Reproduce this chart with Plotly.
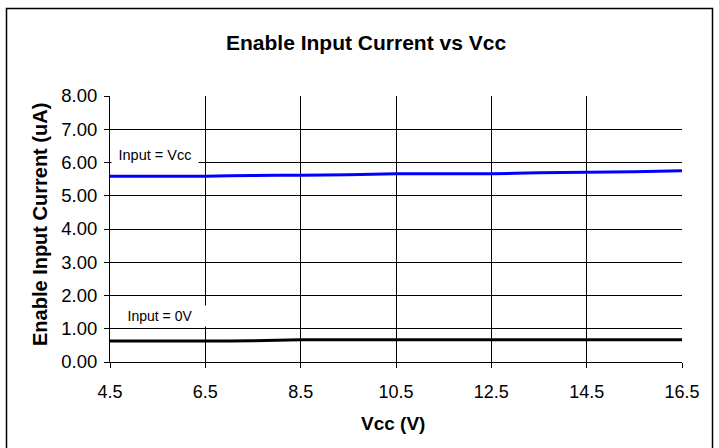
import plotly.graph_objects as go

vcc = [4.5, 5.5, 6.5, 7.5, 8.5, 9.5, 10.5, 11.5, 12.5, 13.5, 14.5, 15.5, 16.5]
i_input_vcc = [5.59, 5.59, 5.59, 5.61, 5.62, 5.63, 5.66, 5.66, 5.66, 5.69, 5.71, 5.72, 5.75]
i_input_0v = [0.63, 0.63, 0.63, 0.64, 0.67, 0.67, 0.67, 0.67, 0.67, 0.67, 0.67, 0.67, 0.67]
x_ticks = [4.5, 6.5, 8.5, 10.5, 12.5, 14.5, 16.5]
y_ticks = [0, 1, 2, 3, 4, 5, 6, 7, 8]

W, H = 719, 448
L, R, T, B = 110, 37, 96, 86
pw = W - L - R
ph = H - T - B

def px_x(px):
    return (px - L) / pw

def px_y(py):
    return (H - B - py) / ph

font = "Liberation Sans, Arial, sans-serif"

fig = go.Figure()
fig.add_trace(go.Scatter(x=vcc, y=i_input_vcc, mode="lines",
                         line=dict(color="#0000FF", width=3, shape="spline", smoothing=0.6),
                         name="Input = Vcc"))
fig.add_trace(go.Scatter(x=vcc, y=i_input_0v, mode="lines",
                         line=dict(color="#000000", width=3, shape="spline", smoothing=0.6),
                         name="Input = 0V"))

fig.update_layout(
    width=W, height=H,
    margin=dict(l=L, r=R, t=T, b=B),
    paper_bgcolor="white", plot_bgcolor="white",
    showlegend=False,
    font=dict(family=font, color="black"),
    xaxis=dict(range=[4.5, 16.5], tickvals=x_ticks, ticktext=[f"{v:g}" for v in x_ticks],
               showgrid=True, gridcolor="#000000", gridwidth=1,
               showline=True, linecolor="#000000", linewidth=1,
               ticks="outside", ticklen=5, tickcolor="#000000",
               ticklabelstandoff=8,
               tickfont=dict(size=18, family=font),
               zeroline=False, fixedrange=True),
    yaxis=dict(range=[0, 8], tickvals=y_ticks, ticktext=[f"{v:.2f}" for v in y_ticks],
               showgrid=True, gridcolor="#000000", gridwidth=1,
               showline=True, linecolor="#000000", linewidth=1,
               ticks="outside", ticklen=5, tickcolor="#000000",
               ticklabelstandoff=3,
               tickfont=dict(size=18.5, family=font),
               zeroline=False, fixedrange=True),
    shapes=[dict(type="rect", xref="paper", yref="paper",
                 x0=px_x(6.5), x1=px_x(712.5), y0=px_y(452), y1=px_y(8.5),
                 line=dict(color="black", width=1.5), fillcolor="rgba(0,0,0,0)", layer="above")],
    annotations=[
        dict(text="<b>Enable Input Current vs Vcc</b>", x=px_x(366), y=px_y(42), xref="paper", yref="paper",
             xanchor="center", yanchor="middle", showarrow=False, font=dict(size=21, family=font)),
        dict(text="<b>Vcc (V)</b>", x=px_x(393), y=px_y(423), xref="paper", yref="paper",
             xanchor="center", yanchor="middle", showarrow=False, font=dict(size=19, family=font)),
        dict(text="<b>Enable Input Current (uA)</b>", x=px_x(40), y=px_y(225), xref="paper", yref="paper",
             xanchor="center", yanchor="middle", showarrow=False, textangle=-90,
             font=dict(size=20, family=font)),
        dict(text="Input = Vcc", x=px_x(111), y=px_y(155), xref="paper", yref="paper",
             xanchor="left", yanchor="middle", width=86, height=20, align="center",
             showarrow=False, bgcolor="white", font=dict(size=14.5, family=font), borderpad=0),
        dict(text="Input = 0V", x=px_x(112), y=px_y(316), xref="paper", yref="paper",
             xanchor="left", yanchor="middle", width=94, height=20, align="center",
             showarrow=False, bgcolor="white", font=dict(size=14, family=font), borderpad=0),
    ],
)

fig.write_html("out.html", config={"displayModeBar": False},
               post_script="document.body.style.margin='0px';")
